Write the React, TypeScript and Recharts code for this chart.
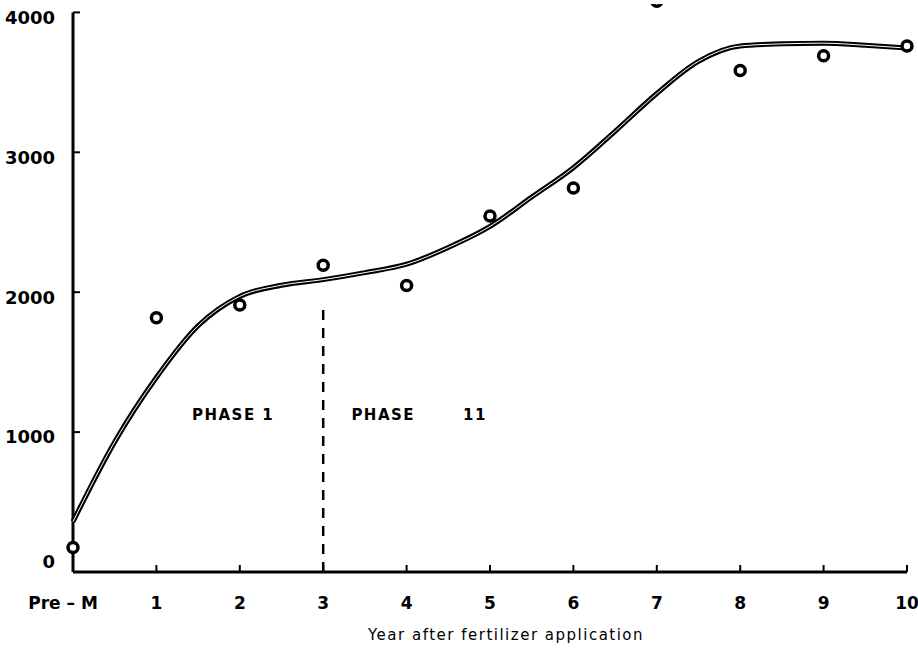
import { ComposedChart, Line, Scatter, XAxis, YAxis, ReferenceLine, ReferenceDot, Label } from "recharts";

// observed yields (open circles)
const pointYears = [0, 1, 2, 3, 4, 5, 6, 7, 8, 9, 10];
const pointValues = [175, 1817, 1908, 2193, 2048, 2545, 2745, 4080, 3585, 3690, 3760];

// fitted curve, read every half year
const curveYears = [0, 0.5, 1, 1.5, 2, 2.5, 3, 3.5, 4, 4.5, 5, 5.5, 6, 6.5, 7, 7.5, 8, 8.5, 9, 9.5, 10];
const curveValues = [360, 930, 1390, 1760, 1970, 2050, 2090, 2140, 2200, 2320, 2470, 2680, 2890, 3150, 3420, 3650, 3760, 3775, 3780, 3765, 3745];

const yTicks = [0, 1000, 2000, 3000, 4000];
const xTicks = [0, 1, 2, 3, 4, 5, 6, 7, 8, 9, 10];
const xTickLabels = ["Pre – M", "1", "2", "3", "4", "5", "6", "7", "8", "9", "10"];

const points = pointYears.map((x, i) => ({ x, y: pointValues[i] }));
const curve = curveYears.map((x, i) => ({ x, y: curveValues[i] }));

const FONT = "'DejaVu Sans', 'Liberation Sans', Arial, sans-serif";

const OpenCircle = (props: any) => (
  <circle cx={props.cx} cy={props.cy} r={5} fill="#fff" stroke="#000" strokeWidth={3.5} />
);

const XTick = (props: any) => {
  const { x, y, payload } = props;
  const idx = xTicks.indexOf(payload.value);
  const shift = payload.value === 0 ? -10 : 0;
  return (
    <text x={x + shift} y={y} dy="0.71em" textAnchor="middle" fontFamily={FONT} fontSize={17} fontWeight="bold" fill="#000">
      {xTickLabels[idx]}
    </text>
  );
};

const YTick = (props: any) => {
  const { x, y, payload } = props;
  const shift = payload.value === 0 ? -10 : 5;
  return (
    <text x={x} y={y + shift} dy="0.355em" textAnchor="end" fontFamily={FONT} fontSize={18} fontWeight="bold" fill="#000">
      {payload.value}
    </text>
  );
};

const phaseLabel = { fontFamily: FONT, fontSize: 15, fontWeight: "bold", letterSpacing: 1.5, fill: "#000" };

export default function App() {
  return (
    <div>
      <style>{"body{margin:0;background:#fff}"}</style>
      <ComposedChart width={918} height={650} margin={{ top: 4, right: 11, bottom: 0, left: 0 }}>
        <XAxis
          type="number"
          dataKey="x"
          domain={[0, 10]}
          ticks={xTicks}
          tick={<XTick />}
          tickSize={-7}
          tickMargin={32}
          tickLine={{ stroke: "#000", strokeWidth: 2 }}
          axisLine={{ stroke: "#000", strokeWidth: 3 }}
          height={78}
          interval={0}
        >
          <Label
            value="Year after fertilizer application"
            position="insideBottom"
            offset={10}
            dx={16}
            fontFamily={FONT}
            fontSize={15}
            letterSpacing={1.5}
            fill="#000"
          />
        </XAxis>
        <YAxis
          type="number"
          dataKey="y"
          domain={[0, 4060]}
          allowDataOverflow
          ticks={yTicks}
          width={73}
          tickSize={-7}
          tickMargin={25}
          tick={<YTick />}
          tickLine={{ stroke: "#000", strokeWidth: 2 }}
          axisLine={false}
          interval={0}
        />
        <ReferenceLine segment={[{ x: 0, y: 0 }, { x: 0, y: 4000 }]} stroke="#000" strokeWidth={3} />
        <ReferenceLine
          segment={[{ x: 3, y: 0 }, { x: 3, y: 1894 }]}
          stroke="#000"
          strokeWidth={2.5}
          strokeDasharray="10 8"
        />
        <ReferenceDot x={1.92} y={1128} r={0} stroke="none" label={{ value: "PHASE 1", position: "center", ...phaseLabel }} />
        <ReferenceDot x={3.72} y={1128} r={0} stroke="none" label={{ value: "PHASE", position: "center", ...phaseLabel }} />
        <ReferenceDot x={4.82} y={1128} r={0} stroke="none" label={{ value: "11", position: "center", ...phaseLabel }} />
        <Line data={curve} dataKey="y" type="monotone" stroke="#000" strokeWidth={5} dot={false} activeDot={false} isAnimationActive={false} />
        <Line data={curve} dataKey="y" type="monotone" stroke="#fff" strokeWidth={1} dot={false} activeDot={false} isAnimationActive={false} />
        <Scatter data={points} dataKey="y" shape={<OpenCircle />} isAnimationActive={false} />
      </ComposedChart>
    </div>
  );
}
